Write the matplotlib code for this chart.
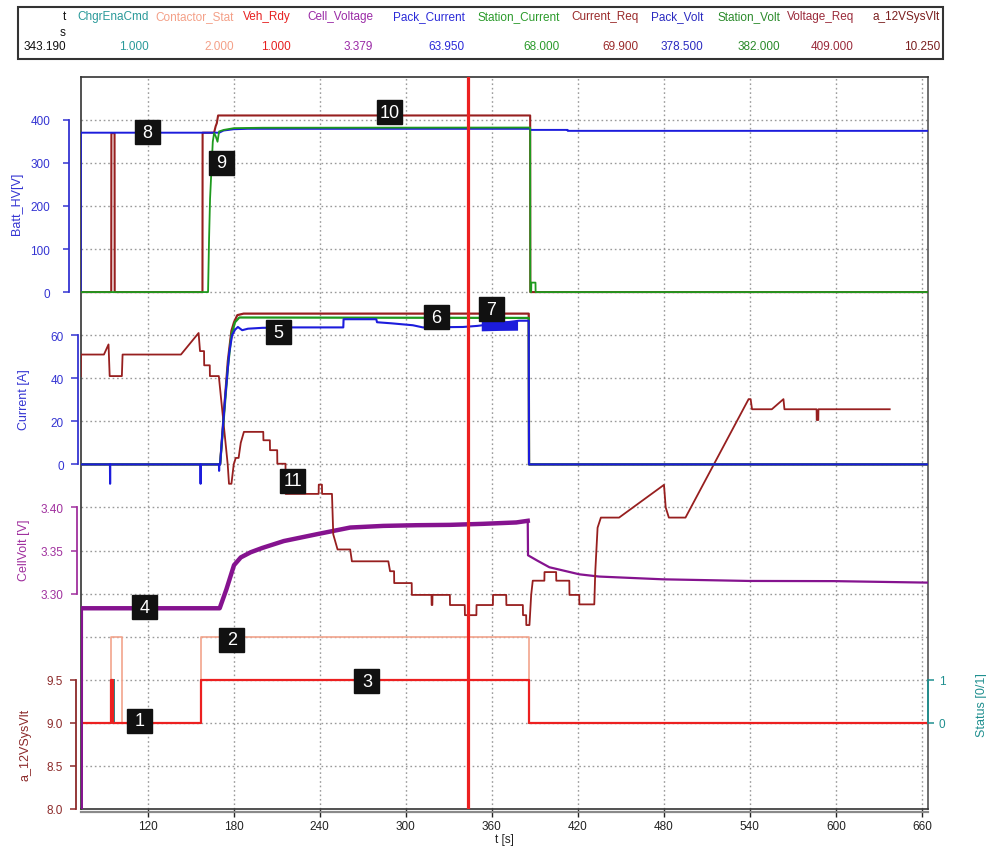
import matplotlib
matplotlib.use('Agg')
import matplotlib.pyplot as plt
from matplotlib.patches import Rectangle
from matplotlib.lines import Line2D
from matplotlib.ticker import FormatStrFormatter

plt.rcParams['font.family'] = ['Liberation Sans', 'DejaVu Sans']

W, H = 987, 853

# recording window and cursor [s]
t_start, t_end = 73.4, 664.4
t_cursor = 343.19

# cursor table on top
hdr_names = ['t', 'ChgrEnaCmd', 'Contactor_Stat', 'Veh_Rdy', 'Cell_Voltage', 'Pack_Current',
             'Station_Current', 'Current_Req', 'Pack_Volt', 'Station_Volt', 'Voltage_Req', 'a_12VSysVlt']
hdr_values = ['343.190', '1.000', '2.000', '1.000', '3.379', '63.950',
              '68.000', '69.900', '378.500', '382.000', '409.000', '10.250']
hdr_colors = ['#111111', '#2a9a9a', '#f4a088', '#e62020', '#9a2aa6', '#2a2ad8',
              '#2a9a2a', '#9a2a2a', '#2a2ac0', '#2a8a2a', '#9a2a3a', '#7a1f1f']
hdr_right = [66, 149, 234, 291, 373, 465, 560, 639, 703, 780, 854, 940]

# ---- Batt_HV [V] ----
pack_volt_t = [73.4, 73.5, 170, 173, 180, 190, 386.8, 387.0, 412.9, 413.0, t_end]
pack_volt_v = [0, 370, 370, 375, 378, 379, 379, 376.5, 376.5, 374.3, 374.3]

station_volt_t = [73.4, 162.2, 162.9, 163.6, 164.6, 165.5, 166.4, 167.5, 168.8, 169.9, 173.3,
                  180.3, 200, 386.8, 386.9, 387.5, 387.6, 390.5, 390.6, t_end]
station_volt_v = [0, 0, 123, 217, 287, 349, 369, 362, 349, 373, 376.6,
                  380.6, 381.5, 382, 0, 0, 22, 22, 0, 0]

volt_req_t = [73.4, 94.7, 94.8, 97.0, 97.1, 158.3, 158.4, 166.4, 167.5, 168.3, 169.2, 386.8, 386.9, t_end]
volt_req_v = [0, 0, 369, 369, 0, 0, 370, 370, 385, 392, 410, 410, 0, 0]

# ---- Current [A] ----
pack_cur_t = [73.4, 93.8, 93.9, 94.0, 156.9, 157.0, 157.1, 169.8, 169.9, 170.0, 170.6, 174, 177,
              179, 181, 183, 186, 190, 200, 220, 256.5, 256.7, 279.5, 280, 290, 305, 312,
              340, 350, 379, 385.8, 386.0, t_end]
pack_cur_v = [0, 0, -9, 0, 0, -9, 0, 0, -3, 0, 0, 30, 52,
              60, 62.5, 63.8, 62.3, 63, 63.4, 63.6, 63.6, 67.4, 67.4, 66, 65.5, 64.6, 63.6,
              63.8, 64.3, 66.7, 66.7, 0, 0]
pack_cur_band_t = [352.7, 365, 378]
pack_cur_band_lo = [62.0, 62.2, 62.3]
pack_cur_band_hi = [66.4, 66.6, 66.8]

station_cur_t = [73.4, 170.6, 173, 176, 178.5, 181, 184, 385.8, 386.0, t_end]
station_cur_v = [0, 0, 20, 45, 60, 66, 68.2, 68.0, 0, 0]

cur_req_t = [73.4, 170.6, 173, 176, 178.5, 180.3, 182.6, 187, 385.8, 386.0, t_end]
cur_req_v = [0, 0, 22, 48, 62, 66, 69.3, 70.0, 70.0, 0, 0]

# trace 11 (drawn on the current scale)
sig11_t = [73.4, 73.6, 89.6, 92.8, 93.6, 102.1, 102.6, 143.3, 155.6, 156.6, 159.4, 159.5, 163.4,
           163.5, 169.7, 175.9, 176.8, 178.5, 180.1, 181.5, 183.5, 185, 187.2, 200.7, 200.8,
           205.3, 205.4, 210.4, 210.5, 216.2, 216.3, 239.3, 239.4, 241.6, 241.7, 248.6, 249.5,
           252.5, 261.3, 262.5, 287.9, 289.1, 291.9, 292, 304.2, 304.3, 318, 318.1, 318.6,
           318.7, 330.8, 330.9, 341.2, 341.3, 349.3, 349.4, 360.8, 360.9, 370.1, 370.2, 381.7,
           381.8, 384.0, 384.1, 386.3, 387.5, 388.6, 396.7, 396.8, 404.9, 405, 414.1, 414.2,
           421, 421.1, 431.5, 432.2, 433.8, 436.1, 448.8, 480.1, 481.3, 483.5, 495.1, 539.1,
           540.5, 541.5, 555.3, 563.4, 564.1, 586.5, 586.6, 587.7, 587.8, 637.5]
sig11_v = [41, 51, 51, 55.7, 41, 41, 51, 51, 61, 52.6, 52.6, 46, 46,
           41, 41, 0, -9, -9, 0, 3, 3, 10, 15.1, 15.1, 11.2,
           11.2, 6.6, 6.6, 0.3, 0.3, -13.7, -13.7, -9.4, -9.4, -13.7, -13.7, -32.5,
           -39.5, -39.5, -45, -45, -49.6, -49.6, -55.1, -55.1, -60.6, -60.6, -65.3, -65.3,
           -60.6, -60.6, -65.3, -65.3, -70, -70, -65.3, -65.3, -60.6, -60.6, -65.3, -65.3,
           -70, -70, -74.6, -74.6, -60.6, -54, -54, -50, -50, -54, -54, -60.6,
           -60.6, -65, -65, -49.7, -29.4, -24.7, -24.7, -9.5, -20, -24.7, -24.7, 30.3,
           30.3, 25.6, 25.6, 30.3, 25.6, 25.6, 20.6, 20.6, 25.6, 25.6]

# ---- CellVolt [V] ----
cell_t = [73.4, 73.5, 170.3, 175, 180.3, 185, 191.9, 200, 215, 238.2, 261.3, 284.4, 307.6,
          330.8, 353.9, 377.1, 385.1]
cell_v = [2.9, 3.283, 3.283, 3.305, 3.333, 3.342, 3.348, 3.353, 3.361, 3.369, 3.3767, 3.3786,
          3.3794, 3.3798, 3.381, 3.3826, 3.3845]
cell_after_t = [385.1, 385.3, 392.1, 400.2, 421.1, 434.9, 479.4, 539.1, 598.8, 662.7, t_end]
cell_after_v = [3.3845, 3.3445, 3.338, 3.3306, 3.3224, 3.3198, 3.3166, 3.3147, 3.3145, 3.3128, 3.3128]

# ---- status signals (steps) ----
contactor_t = [73.4, 94.2, 102.1, 157.2, 385.8, t_end]
contactor_v = [0, 2, 0, 2, 0, 0]
chgr_ena_t = [73.4, 96.3, 96.9, 157.2, 385.8, t_end]
chgr_ena_v = [0, 1, 0, 1, 0, 0]
veh_rdy_t = [73.4, 94.6, 95.7, 157.2, 385.8, t_end]
veh_rdy_v = [0, 1, 0, 1, 0, 0]

# callouts: label, t, row position (0..17 plot rows)
callouts = [('8', 120.1, 15.71), ('9', 171.7, 15.0), ('10', 288.6, 16.17), ('5', 211.2, 11.07),
            ('6', 321.6, 11.41), ('7', 359.5, 11.6), ('11', 221.2, 7.62), ('4', 118.0, 4.68),
            ('2', 178.7, 3.93), ('3', 273.0, 2.97), ('1', 114.4, 2.05)]

BROWN = '#971f1f'
BLUE = '#1c1cdc'
GREEN = '#1e9a1e'
PURPLE = '#85138f'
RED = '#ec2020'
SALMON = '#f2a48c'
TEAL = '#1f8f8f'

fig = plt.figure(figsize=(W / 100, H / 100), dpi=100)
ax = fig.add_axes([80.7 / W, 1 - 810 / H, (928.3 - 80.7) / W, (810 - 77.7) / H])
ax.set_xlim(t_start, t_end)
ax.set_ylim(0, 17)


def twin(lo, hi):
    a = ax.twinx()
    a.set_ylim(lo, hi)
    a.set_xlim(t_start, t_end)
    for s in a.spines.values():
        s.set_visible(False)
    a.set_yticks([])
    return a


def left_axis(a, bounds, ticks, fmt, color, label, out_pt, tick_len, pad, lab_xy):
    a.yaxis.tick_left()
    a.yaxis.set_label_position('left')
    sp = a.spines['left']
    sp.set_visible(True)
    sp.set_position(('outward', out_pt))
    sp.set_bounds(*bounds)
    sp.set_color(color)
    sp.set_linewidth(1.3)
    a.set_yticks(ticks)
    a.yaxis.set_major_formatter(FormatStrFormatter(fmt))
    a.tick_params(axis='y', left=True, right=False, labelleft=True, labelright=False,
                  colors=color, length=tick_len, width=1.1, pad=pad, labelsize=8.5)
    a.set_ylabel(label, color=color, fontsize=9)
    a.yaxis.set_label_coords(*lab_xy)


# status axis (right)
ax_st = twin(-2, 15)
ax_st.yaxis.tick_right()
ax_st.spines['right'].set_visible(True)
ax_st.spines['right'].set_bounds(0, 1)
ax_st.spines['right'].set_color(TEAL)
ax_st.spines['right'].set_linewidth(1.3)
ax_st.set_yticks([0, 1])
ax_st.tick_params(axis='y', colors=TEAL, length=4, width=1.1, pad=3.5, labelsize=8.5)
ax_st.set_ylabel('Status [0/1]', color=TEAL, fontsize=9)
ax_st.yaxis.set_label_coords(1.056, 0.143)
ax_st.step(contactor_t, contactor_v, where='post', color=SALMON, lw=1.2)
ax_st.step(chgr_ena_t, chgr_ena_v, where='post', color=TEAL, lw=1.2)
ax_st.step(veh_rdy_t, veh_rdy_v, where='post', color=RED, lw=1.6)

# 12 V axis
ax_12 = twin(8, 16.5)
left_axis(ax_12, (8, 9.5), [8.0, 8.5, 9.0, 9.5], '%.1f', '#8c2a2a', 'a_12VSysVlt',
          3.4, 4.3, 4.8, (-0.0578, 0.089))

# cell voltage axis
ax_cv = twin(3.05, 3.9)
left_axis(ax_cv, (3.30, 3.40), [3.30, 3.35, 3.40], '%.2f', '#a0309e', 'CellVolt [V]',
          2.4, 4.5, 5.5, (-0.0598, 0.355))
ax_cv.plot(cell_after_t, cell_after_v, color=PURPLE, lw=1.6)
ax_cv.plot(cell_t, cell_v, color=PURPLE, lw=3.2)

# current axis
ax_cur = twin(-160, 180)
left_axis(ax_cur, (0, 60), [0, 20, 40, 60], '%d', '#3434d2', 'Current [A]',
          1.7, 4.8, 5.5, (-0.0598, 0.560))
ax_cur.plot(sig11_t, sig11_v, color=BROWN, lw=1.3)
ax_cur.plot(cur_req_t, cur_req_v, color=BROWN, lw=1.6)
ax_cur.plot(station_cur_t, station_cur_v, color=GREEN, lw=1.6)
ax_cur.fill_between(pack_cur_band_t, pack_cur_band_lo, pack_cur_band_hi, color=BLUE, lw=0)
ax_cur.plot(pack_cur_t, pack_cur_v, color=BLUE, lw=1.5)

# HV axis
ax_hv = twin(-1200, 500)
left_axis(ax_hv, (0, 400), [0, 100, 200, 300, 400], '%d', '#3434d2', 'Batt_HV[V]',
          8.4, 4.1, 9.5, (-0.0684, 0.8275))
ax_hv.plot(volt_req_t, volt_req_v, color=BROWN, lw=1.5)
ax_hv.plot(pack_volt_t, pack_volt_v, color=BLUE, lw=1.4)
ax_hv.plot(station_volt_t, station_volt_v, color=GREEN, lw=1.3)

# overlay for cursor and callouts
ax_ov = twin(0, 17)
ax_ov.axvline(t_cursor, color=RED, lw=2.3)
px_per_s = (928.3 - 80.7) / (t_end - t_start)
px_per_row = (810 - 77.7) / 17
bw, bh = 25 / px_per_s, 24 / px_per_row
for txt, tx, ty in callouts:
    ax_ov.add_patch(Rectangle((tx - bw / 2, ty - bh / 2), bw, bh, color='#111111', zorder=5))
    ax_ov.text(tx, ty, txt, color='white', fontsize=13, ha='center', va='center', zorder=6)

# base axes: grid, frame and time axis
ax.set_xticks(range(120, 661, 60))
ax.set_yticks(range(1, 17))
ax.tick_params(axis='y', left=False, right=False, labelleft=False, labelright=False)
ax.tick_params(axis='x', length=6, width=1, pad=2, labelsize=8.5, colors='#222222')
ax.grid(True, color='#9a9a9a', lw=1.0, linestyle=(0, (1.2, 2.0)))
ax.set_xlabel('t [s]', fontsize=8.5, labelpad=1, color='#222222')
for name, sp in ax.spines.items():
    sp.set_color('#333333')
    sp.set_linewidth(1.2)
ax.spines['right'].set_color('#555555')
fig.add_artist(Line2D([80.7 / W, 928.3 / W], [1 - 812.8 / H, 1 - 812.8 / H],
                      transform=fig.transFigure, color='#8a8a8a', lw=1.6))

# cursor table
fig.add_artist(Rectangle((18 / W, 1 - 60 / H), (943 - 18) / W, (60 - 8) / H,
                         transform=fig.transFigure, fill=False, ec='#333333', lw=1.5))
for name, val, col, xr in zip(hdr_names, hdr_values, hdr_colors, hdr_right):
    fig.text(xr / W, 1 - 17 / H, name, color=col, fontsize=8.5, ha='right', va='center')
    fig.text(xr / W, 1 - 47 / H, val, color=col, fontsize=8.5, ha='right', va='center')
fig.text(66 / W, 1 - 33 / H, 's', color='#111111', fontsize=8.5, ha='right', va='center')

fig.savefig('out.png', dpi=100)
